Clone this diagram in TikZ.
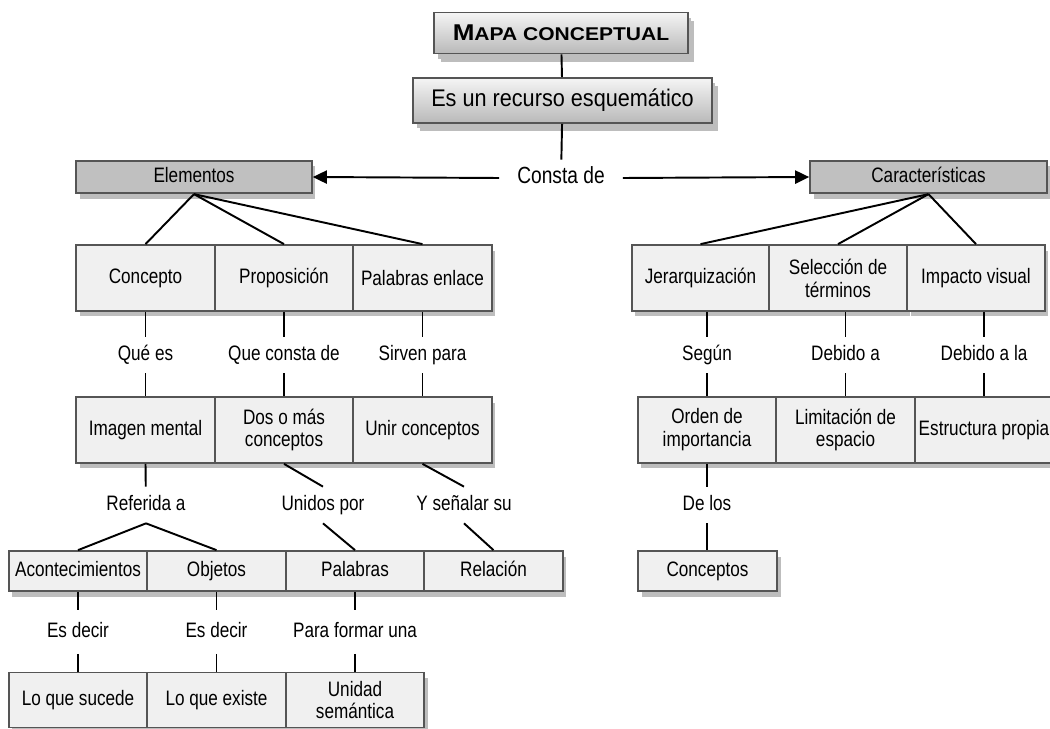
\documentclass[tikz,border=0pt]{standalone}
\usepackage{fontspec}
\setmainfont{Liberation Sans}[FakeStretch=0.82]
\newfontfamily\widefont{Liberation Sans}
\newfontfamily\midfont{Liberation Sans}[FakeStretch=0.9]
\usetikzlibrary{arrows.meta,shadows}

\definecolor{boxline}{HTML}{555555}
\definecolor{boxfill}{HTML}{F0F0F0}
\definecolor{headfill}{HTML}{C0C0C0}
\definecolor{shadowc}{HTML}{BDBDBD}

\begin{document}
\begin{tikzpicture}[x=0.02cm, y=-0.02cm,
  box/.style={draw=boxline, line width=1pt, fill=boxfill, align=center, inner sep=1pt,
    minimum width=2.77cm, minimum height=1.32cm, font=\fontsize{11.9}{13}\selectfont,
    drop shadow={shadow xshift=0.07cm, shadow yshift=-0.11cm, fill=shadowc, opacity=1}},
  smallbox/.style={box, minimum height=0.8cm, text height=9pt, text depth=2.5pt},
  headbox/.style={smallbox, fill=headfill, minimum height=0.65cm},
  titlebox/.style={box, top color=gray!8, bottom color=gray!55,
    drop shadow={shadow xshift=0.13cm, shadow yshift=-0.17cm, fill=shadowc, opacity=1}},
  lbl/.style={inner sep=1pt, minimum height=0.72cm, text height=9pt, text depth=2.5pt,
    font=\fontsize{11.9}{13}\selectfont},
  link/.style={line width=1.1pt},
  arr/.style={link, -{Triangle[length=8pt,width=7.5pt]}}
]

\useasboundingbox (0,0) rectangle (1050,729);

% Title and root
\node[titlebox, minimum width=5.08cm, minimum height=0.82cm] (title) at (561,33)
  {\scalebox{1.14}[1]{\widefont\bfseries\fontsize{13}{15}\selectfont M\fontsize{10.5}{13}\selectfont APA CONCEPTUAL}};
\node[titlebox, minimum width=5.98cm, minimum height=0.9cm, font=\midfont\fontsize{13.7}{15}\selectfont] (esun) at (562.5,100.5)
  {Es un recurso esquemático};
\node[lbl, minimum width=2.46cm, font=\fontsize{13.3}{15}\selectfont] (consta) at (561,178) {Consta de};

% Two branches
\node[headbox, minimum width=4.72cm] (elem) at (194,177) {Elementos};
\node[headbox, minimum width=4.74cm] (carac) at (928.5,177) {Características};

% Left branch, first row
\node[box] (concepto) at (145.5,278) {Concepto};
\node[box] (propos) at (284,278) {Proposición};
\node[box] (palenl) at (422.5,278) {Palabras enlace};

% Right branch, first row
\node[box, minimum width=2.75cm] (jerarq) at (700.5,278) {Jerarquización};
\node[box, minimum width=2.75cm] (selecc) at (838,278) {Selección de\\términos};
\node[box, minimum width=2.75cm] (impacto) at (976,278) {Impacto visual};

% Linking words, first level
\node[lbl] (quees) at (145.5,355) {Qué es};
\node[lbl] (qconsta) at (284,355) {Que consta de};
\node[lbl] (sirven) at (422.5,355) {Sirven para};
\node[lbl] (segun) at (707,355) {Según};
\node[lbl] (debido) at (845.5,355) {Debido a};
\node[lbl] (debidola) at (984,355) {Debido a la};

% Second row
\node[box] (imagen) at (145.5,430) {Imagen mental};
\node[box] (dosmas) at (284,430) {Dos o más\\conceptos};
\node[box] (unir) at (422.5,430) {Unir conceptos};
\node[box] (orden) at (707,430) {Orden de\\importancia};
\node[box] (limit) at (845.5,430) {Limitación de\\espacio};
\node[box] (estruc) at (984,430) {Estructura propia};

% Linking words, second level
\node[lbl] (referida) at (146,505) {Referida a};
\node[lbl] (unidos) at (323,505) {Unidos por};
\node[lbl] (senalar) at (464,505) {Y señalar su};
\node[lbl] (delos) at (707,505) {De los};

% Third row
\node[smallbox] (acont) at (78,571) {Acontecimientos};
\node[smallbox] (objetos) at (216.5,571) {Objetos};
\node[smallbox] (palabras) at (355,571) {Palabras};
\node[smallbox] (relacion) at (493.5,571) {Relación};
\node[smallbox, minimum width=2.78cm] (conceptos) at (707.5,571) {Conceptos};

% Linking words, third level
\node[lbl, minimum height=0.86cm] (esdecira) at (78,632) {Es decir};
\node[lbl, minimum height=0.86cm] (esdecirb) at (216.5,632) {Es decir};
\node[lbl, minimum height=0.86cm] (formar) at (355,632) {Para formar una};

% Fourth row
\node[box, minimum height=1.1cm] (sucede) at (78,700) {Lo que sucede};
\node[box, minimum height=1.1cm] (existe) at (216.5,700) {Lo que existe};
\node[box, minimum height=1.1cm] (unidad) at (355,700) {Unidad\\semántica};

% Connectors
\draw[link] (title) -- (esun);
\draw[link] (esun) -- (consta);
\draw[arr] (consta.west) -- (elem.east);
\draw[arr] (consta.east) -- (carac.west);

\foreach \b in {concepto, propos, palenl}
  \draw[link] (elem.south) -- (\b.north);
\foreach \b in {jerarq, selecc, impacto}
  \draw[link] (carac.south) -- (\b.north);

% straight links through a label
\foreach \a/\l/\b in {concepto/quees/imagen, propos/qconsta/dosmas, palenl/sirven/unir,
    jerarq/segun/orden, selecc/debido/limit, impacto/debidola/estruc,
    orden/delos/conceptos, acont/esdecira/sucede, objetos/esdecirb/existe,
    palabras/formar/unidad} {
  \draw[link] (\l |- \a.south) -- (\l);
  \draw[link] (\l) -- (\l |- \b.north);
}

% slanted links
\draw[link] (imagen.south) -- (referida);
\draw[link] (referida.south) -- (acont.north);
\draw[link] (referida.south) -- (objetos.north);
\draw[link] (dosmas.south) -- (unidos.north);
\draw[link] (unidos.south) -- (palabras.north);
\draw[link] (unir.south) -- (senalar.north);
\draw[link] (senalar.south) -- (relacion.north);

\end{tikzpicture}
\end{document}
